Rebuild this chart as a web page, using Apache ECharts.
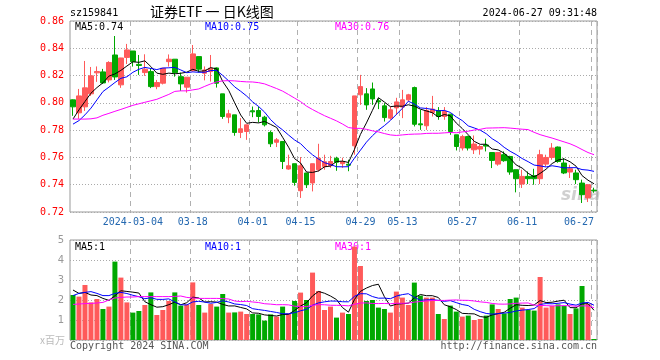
<!DOCTYPE html>
<html><head><meta charset="utf-8">
<script src="https://cdn.jsdelivr.net/npm/echarts@6/dist/echarts.min.js"></script>
<style>html,body{margin:0;padding:0;background:#fff}#c{width:660px;height:360px}</style>
</head><body><div id="c"></div>
<script>
// ---- data ----
const dates = [
'2024-02-19','2024-02-20','2024-02-21','2024-02-22','2024-02-23','2024-02-26','2024-02-27','2024-02-28','2024-02-29','2024-03-01',
'2024-03-04','2024-03-05','2024-03-06','2024-03-07','2024-03-08','2024-03-11','2024-03-12','2024-03-13','2024-03-14','2024-03-15',
'2024-03-18','2024-03-19','2024-03-20','2024-03-21','2024-03-22','2024-03-25','2024-03-26','2024-03-27','2024-03-28','2024-03-29',
'2024-04-01','2024-04-02','2024-04-03','2024-04-08','2024-04-09','2024-04-10','2024-04-11','2024-04-12','2024-04-15','2024-04-16',
'2024-04-17','2024-04-18','2024-04-19','2024-04-22','2024-04-23','2024-04-24','2024-04-25','2024-04-26','2024-04-29','2024-04-30',
'2024-05-06','2024-05-07','2024-05-08','2024-05-09','2024-05-10','2024-05-13','2024-05-14','2024-05-15','2024-05-16','2024-05-17',
'2024-05-20','2024-05-21','2024-05-22','2024-05-23','2024-05-24','2024-05-27','2024-05-28','2024-05-29','2024-05-30','2024-05-31',
'2024-06-03','2024-06-04','2024-06-05','2024-06-06','2024-06-07','2024-06-11','2024-06-12','2024-06-13','2024-06-14','2024-06-17',
'2024-06-18','2024-06-19','2024-06-20','2024-06-21','2024-06-24','2024-06-25','2024-06-26','2024-06-27'];

const opens = [
0.8022,0.7927,0.7971,0.8066,0.8220,0.8227,0.8168,0.8351,0.8132,0.8333,
0.8380,0.8282,0.8222,0.8229,0.8119,0.8144,0.8302,0.8320,0.8192,0.8115,
0.8236,0.8339,0.8217,0.8229,0.8256,0.8066,0.7895,0.7912,0.7783,0.7790,
0.7942,0.7944,0.7895,0.7783,0.7711,0.7717,0.7515,0.7554,0.7356,0.7486,
0.7413,0.7510,0.7534,0.7539,0.7594,0.7554,0.7550,0.7685,0.8059,0.8066,
0.8102,0.8015,0.7978,0.7888,0.7963,0.7969,0.8022,0.8112,0.7846,0.7832,
0.7929,0.7944,0.7900,0.7917,0.7766,0.7669,0.7753,0.7656,0.7661,0.7691,
0.7636,0.7551,0.7620,0.7607,0.7510,0.7405,0.7461,0.7466,0.7444,0.7551,
0.7600,0.7676,0.7559,0.7493,0.7486,0.7412,0.7303,0.7360];
const closes = [
0.7971,0.8051,0.8110,0.8198,0.8230,0.8146,0.8296,0.8190,0.8329,0.8388,
0.8302,0.8274,0.8247,0.8119,0.8149,0.8254,0.8320,0.8222,0.8139,0.8188,
0.8359,0.8247,0.8241,0.8254,0.8144,0.7900,0.7920,0.7783,0.7810,0.7839,
0.7934,0.7900,0.7839,0.7700,0.7729,0.7570,0.7539,0.7417,0.7539,0.7400,
0.7554,0.7595,0.7568,0.7570,0.7565,0.7568,0.7543,0.8051,0.8119,0.7985,
0.8029,0.8007,0.7892,0.7949,0.8007,0.8022,0.8059,0.7843,0.7839,0.7944,
0.7954,0.7900,0.7937,0.7790,0.7680,0.7753,0.7669,0.7698,0.7680,0.7683,
0.7578,0.7636,0.7576,0.7493,0.7444,0.7461,0.7444,0.7444,0.7620,0.7600,
0.7669,0.7570,0.7486,0.7517,0.7437,0.7327,0.7400,0.7356];
const highs = [
0.8025,0.8102,0.8307,0.8263,0.8267,0.8249,0.8305,0.8490,0.8330,0.8432,
0.8380,0.8351,0.8356,0.8254,0.8168,0.8256,0.8355,0.8320,0.8222,0.8188,
0.8424,0.8339,0.8267,0.8351,0.8260,0.8066,0.7949,0.7912,0.7888,0.7839,
0.7973,0.7973,0.7905,0.7797,0.7742,0.7717,0.7620,0.7554,0.7603,0.7486,
0.7554,0.7700,0.7620,0.7612,0.7605,0.7598,0.7583,0.8051,0.8205,0.8108,
0.8149,0.8034,0.7998,0.7973,0.8037,0.8095,0.8066,0.8119,0.7949,0.7969,
0.8051,0.7969,0.7969,0.7920,0.7766,0.7766,0.7759,0.7761,0.7693,0.7737,
0.7636,0.7640,0.7644,0.7612,0.7510,0.7510,0.7497,0.7517,0.7656,0.7620,
0.7705,0.7680,0.7595,0.7546,0.7510,0.7437,0.7405,0.7378];
const lows = [
0.7905,0.7883,0.7941,0.8051,0.8154,0.8139,0.8150,0.8168,0.8110,0.8285,
0.8266,0.8205,0.8198,0.8108,0.8100,0.8135,0.8266,0.8192,0.8088,0.8075,
0.8229,0.8222,0.8165,0.8156,0.8112,0.7883,0.7851,0.7759,0.7742,0.7729,
0.7895,0.7856,0.7827,0.7676,0.7676,0.7515,0.7510,0.7393,0.7303,0.7376,
0.7351,0.7497,0.7510,0.7524,0.7502,0.7524,0.7499,0.7620,0.7985,0.7949,
0.7985,0.7954,0.7863,0.7876,0.7912,0.7888,0.8010,0.7827,0.7802,0.7802,
0.7900,0.7876,0.7876,0.7766,0.7651,0.7651,0.7651,0.7625,0.7620,0.7644,
0.7522,0.7539,0.7568,0.7473,0.7344,0.7376,0.7405,0.7400,0.7405,0.7534,
0.7583,0.7561,0.7478,0.7449,0.7405,0.7266,0.7273,0.7341];
// volume, millions
const volumes = [
2.25,2.17,2.75,1.88,2.05,1.55,1.67,3.92,3.12,1.88,
1.37,1.45,1.75,2.38,1.25,1.50,1.95,2.38,1.72,1.78,
2.88,1.75,1.37,1.80,1.67,2.30,1.37,1.38,1.42,1.30,
1.30,1.28,0.97,1.28,1.17,1.67,1.33,1.95,2.37,2.00,
3.37,2.45,1.50,1.67,1.12,1.37,1.30,4.67,3.70,1.95,
2.00,1.62,1.55,1.37,2.42,2.12,1.75,2.87,2.22,2.12,
2.12,1.30,1.05,1.72,1.42,1.17,1.22,1.00,1.05,1.22,
1.78,1.55,1.33,2.05,2.12,1.62,1.50,1.47,3.15,1.62,
1.70,1.78,1.70,1.30,1.58,2.70,1.80,0.05];
// moving-average values before enough history exists
const ma5Head  = [0.7881,0.7949,0.8010,0.8071];
const ma10Head = [0.7844,0.7870,0.7912,0.7961,0.8022,0.8083,0.8115,0.8149,0.8180];
const ma30Head = [0.7881,0.7881,0.7881,0.7883,0.7890,0.7909,0.7923,0.7938,0.7952,0.7967,
                  0.7982,0.7993,0.8004,0.8015,0.8026,0.8044,0.8062,0.8084,0.8088,0.8088,
                  0.8095,0.8102,0.8121,0.8139,0.8154,0.8161,0.8163,0.8161,0.8157];
const vma5Head  = [2.50,2.33,2.38,2.25];
const vma10Head = [2.22,2.33,2.38,2.42,2.33,2.22,2.22,2.33,2.38];
const vma30Head = [1.78,1.80,1.82,1.83,1.85,1.88,2.00,2.10,2.13,2.15,
                   2.15,2.17,2.17,2.17,2.17,2.17,2.17,2.18,2.20,2.13,
                   2.10,2.08,2.08,2.08,2.08,2.07,2.05,1.95,1.92];
const tickDates  = ['2024-03-04','2024-03-18','2024-04-01','2024-04-15','2024-04-29','2024-05-13','2024-05-27','2024-06-11','2024-06-27'];
const tickLabels = ['2024-03-04','03-18','04-01','04-15','04-29','05-13','05-27','06-11','06-27'];
const priceTicks = [0.72,0.86,0.02];
const volTicks = [0,5,1];

// ---- helpers ----
function movingAvg(arr, n, head){
  return arr.map((v,i)=>{
    if(i < n-1) return head[i];
    let s=0; for(let k=i-n+1;k<=i;k++) s+=arr[k];
    return +(s/n).toFixed(4);
  });
}
const ma5 = movingAvg(closes,5,ma5Head), ma10 = movingAvg(closes,10,ma10Head), ma30 = movingAvg(closes,30,ma30Head);
const vma5 = movingAvg(volumes,5,vma5Head), vma10 = movingAvg(volumes,10,vma10Head), vma30 = movingAvg(volumes,30,vma30Head);
const UP='#ff5a5a', DOWN='#00a800';
const candleData = dates.map((d,i)=>[opens[i],closes[i],lows[i],highs[i]]);
const volData = volumes.map((v,i)=>({value:v,itemStyle:{color: closes[i]>=opens[i]?UP:DOWN}}));
const last = dates.length-1;
const MONO = '"DejaVu Sans Mono", "Liberation Mono", monospace';
const isTick = (idx,val)=> tickDates.indexOf(val) >= 0;

const splitX = {show:true, interval:isTick, lineStyle:{color:'#b0b0b0', type:[5,4], width:1}};
const splitY = {show:true, lineStyle:{color:'#aaaaaa', type:[1,2], width:1}};

function lineSeries(name,data,color,xi,yi){
  return {name,type:'line',data,xAxisIndex:xi,yAxisIndex:yi,showSymbol:false,symbol:'none',
    lineStyle:{color,width:1},itemStyle:{color},silent:true,z:5};
}
function txt(text,x,y,color,font,align){
  return {type:'text',x,y,silent:true,style:{text,fill:color,font,align:align||'left',verticalAlign:'middle'}};
}

const chart = echarts.init(document.getElementById('c'), null, {renderer:'canvas'});
chart.setOption({
  animation:false,
  backgroundColor:'#fff',
  grid:[
    {left:70, top:21, width:527, height:191, show:true, borderColor:'#999', borderWidth:1, backgroundColor:'transparent'},
    {left:70, top:240, width:527, height:100, show:true, borderColor:'#999', borderWidth:1, backgroundColor:'transparent'}
  ],
  xAxis:[
    {type:'category', gridIndex:0, data:dates, boundaryGap:true,
     axisLine:{show:false}, axisTick:{show:false},
     axisLabel:{interval:isTick, formatter:v=>tickLabels[tickDates.indexOf(v)], color:'#2468b0',
       fontFamily:MONO, fontSize:10, margin:5, alignMaxLabel:'right'},
     splitLine:splitX},
    {type:'category', gridIndex:1, data:dates, boundaryGap:true,
     axisLine:{show:false}, axisTick:{show:false}, axisLabel:{show:false}, splitLine:splitX}
  ],
  yAxis:[
    {type:'value', gridIndex:0, min:priceTicks[0], max:priceTicks[1], interval:priceTicks[2], scale:true,
     axisLine:{show:false}, axisTick:{show:false},
     axisLabel:{color:'#ff0000', fontFamily:MONO, fontSize:10, margin:6, formatter:v=>v.toFixed(2)},
     splitLine:splitY},
    {type:'value', gridIndex:1, min:volTicks[0], max:volTicks[1], interval:volTicks[2],
     axisLine:{show:false}, axisTick:{show:false},
     axisLabel:{color:'#999', fontFamily:'"DejaVu Sans", sans-serif', fontSize:10, margin:6, formatter:v=> v===0?'':String(v)},
     splitLine:splitY}
  ],
  series:[
    {name:'K', type:'candlestick', xAxisIndex:0, yAxisIndex:0, data:candleData, barWidth:5,
     itemStyle:{color:UP, color0:DOWN, borderColor:UP, borderColor0:DOWN, borderWidth:1}, z:3},
    lineSeries('MA5',ma5,'#000000',0,0),
    lineSeries('MA10',ma10,'#0000ff',0,0),
    lineSeries('MA30',ma30,'#ff00ff',0,0),
    {name:'VOL', type:'bar', xAxisIndex:1, yAxisIndex:1, data:volData, barWidth:5, z:3},
    lineSeries('VMA5',vma5,'#000000',1,1),
    lineSeries('VMA10',vma10,'#0000ff',1,1),
    lineSeries('VMA30',vma30,'#ff00ff',1,1)
  ],
  graphic:[
    txt('sz159841',70,13,'#000','10px '+MONO),
    txt('证券ETF 一 日K线图',150,12,'#000','14px "Noto Sans CJK SC"'),
    txt('2024-06-27 09:31:48',597,13,'#000','10px '+MONO,'right'),
    txt('MA5:'+ma5[last].toFixed(2),75,27,'#000','10px '+MONO),
    txt('MA10:'+ma10[last].toFixed(2),205,27,'#0000ff','10px '+MONO),
    txt('MA30:'+ma30[last].toFixed(2),335,27,'#ff00ff','10px '+MONO),
    txt('MA5:'+Math.floor(vma5[last]),75,247,'#000','10px '+MONO),
    txt('MA10:'+Math.floor(vma10[last]),205,247,'#0000ff','10px '+MONO),
    txt('MA30:'+Math.floor(vma30[last]),335,247,'#ff00ff','10px '+MONO),
    txt('x百万',65,340,'#bbbbbb','10px "Noto Sans CJK SC"','right'),
    txt('Copyright 2024 SINA.COM',70,346,'#555','10px '+MONO),
    txt('http://finance.sina.com.cn',597,346,'#555','10px '+MONO,'right'),
    {type:'text', x:561, y:196, silent:true, z:1, style:{text:'sina', fill:'rgba(170,170,170,0.55)', font:'italic bold 17px "DejaVu Sans"', align:'left', verticalAlign:'middle'}}
  ]
});
</script></body></html>
